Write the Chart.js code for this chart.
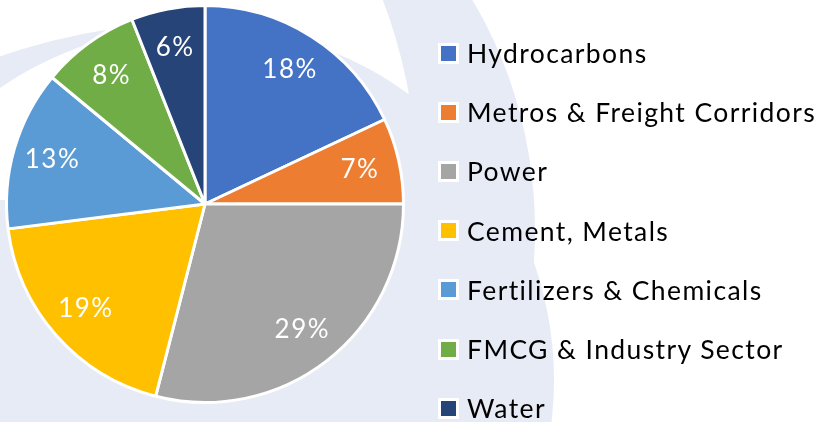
<!DOCTYPE html>
<html lang="en">
<head>
<meta charset="UTF-8">
<title>Order Book by Sector</title>
<script src="https://cdn.jsdelivr.net/npm/chart.js"></script>
<style>
  html, body { margin: 0; padding: 0; background: #fff; }
  #wrap { position: relative; width: 818px; height: 422px; overflow: hidden; }
  #chart { position: absolute; left: 0; top: 0; }
  #legend { position: absolute; left: 438px; top: 0; margin: 0; padding: 0; list-style: none;
            font-family: Lato, sans-serif; font-size: 26.5px; letter-spacing: 1.4px; color: #000; }
  #legend li { position: absolute; left: 0; height: 30px; display: flex; align-items: center; white-space: nowrap; }
  #legend .box { width: 15px; height: 15px; border: 3px solid #fff; margin-right: 8px; flex: none; }
</style>
</head>
<body>
<div id="wrap">
  <canvas id="chart" width="818" height="422"></canvas>
  <ul id="legend"></ul>
</div>
<script>
  // sectors, clockwise from 12 o'clock
  const sectors = ['Hydrocarbons', 'Metros & Freight Corridors', 'Power', 'Cement, Metals',
                   'Fertilizers & Chemicals', 'FMCG & Industry Sector', 'Water'];
  const shares = [18, 7, 29, 19, 13, 8, 6];
  const colors = ['#4472C4', '#ED7D31', '#A5A5A5', '#FFC000', '#5B9BD5', '#70AD47', '#264478'];

  const LIGHT = '#E7EBF5';

  // the pale swirl behind the slide
  const swirl = {
    id: 'swirl',
    beforeDraw(chart) {
      const ctx = chart.ctx;
      ctx.save();
      ctx.fillStyle = '#fff';
      ctx.fillRect(0, 0, chart.width, chart.height);

      ctx.fillStyle = LIGHT;
      ctx.beginPath();
      ctx.ellipse(190, 230, 345, 400, 0, 0, Math.PI * 2);
      ctx.fill();

      // white halo round the pie
      ctx.save();
      ctx.beginPath();
      ctx.arc(-100, 185, 517, 0, Math.PI * 2);
      ctx.clip();
      ctx.fillStyle = '#fff';
      ctx.beginPath();
      ctx.arc(215, 70, 316, 0, Math.PI * 2);
      ctx.fill();
      ctx.restore();

      // thin arc top left
      ctx.save();
      ctx.beginPath();
      ctx.arc(205, 650, 628, 0, Math.PI * 2);
      ctx.clip();
      ctx.fillStyle = LIGHT;
      ctx.beginPath();
      ctx.rect(0, 0, 200, 200);
      ctx.arc(200, 380, 354, 0, Math.PI * 2);
      ctx.fill('evenodd');
      ctx.restore();

      ctx.restore();
    }
  };

  // percentage text inside the slices
  const pctLabels = {
    id: 'pctLabels',
    afterDatasetsDraw(chart) {
      const ctx = chart.ctx;
      const meta = chart.getDatasetMeta(0);
      ctx.save();
      ctx.font = '26px Lato';
      ctx.letterSpacing = '1.5px';
      ctx.fillStyle = '#fff';
      ctx.textAlign = 'center';
      ctx.textBaseline = 'middle';
      meta.data.forEach((arc, i) => {
        const mid = (arc.startAngle + arc.endAngle) / 2;
        const r = arc.outerRadius * 0.8;
        ctx.fillText(shares[i] + '%', arc.x + Math.cos(mid) * r, arc.y + Math.sin(mid) * r);
      });
      ctx.restore();
    }
  };

  new Chart(document.getElementById('chart'), {
    type: 'pie',
    data: {
      labels: sectors,
      datasets: [{
        data: shares,
        backgroundColor: colors,
        borderColor: '#fff',
        borderWidth: 3
      }]
    },
    options: {
      responsive: false,
      animation: false,
      layout: { padding: { left: 5, top: 4, right: 413, bottom: 18 } },
      plugins: {
        legend: { display: false },
        tooltip: { enabled: false }
      }
    },
    plugins: [swirl, pctLabels]
  });

  // legend to the right
  const legend = document.getElementById('legend');
  sectors.forEach((name, i) => {
    const li = document.createElement('li');
    li.style.top = (53 + i * 59.2 - 15) + 'px';
    const box = document.createElement('span');
    box.className = 'box';
    box.style.background = colors[i];
    li.appendChild(box);
    li.appendChild(document.createTextNode(name));
    legend.appendChild(li);
  });
</script>
</body>
</html>
